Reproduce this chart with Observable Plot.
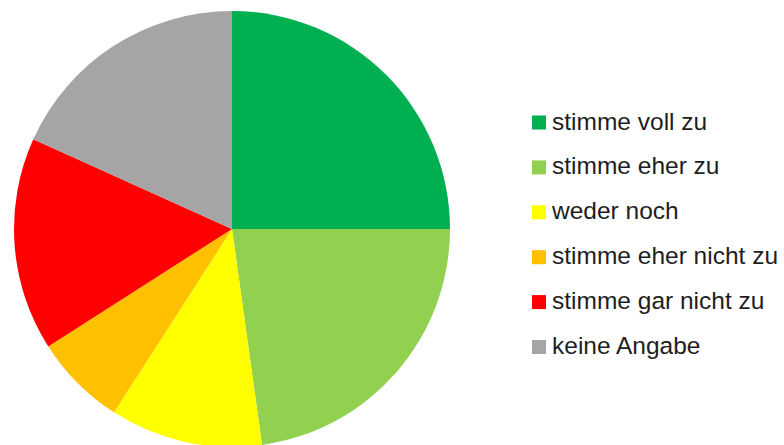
<!DOCTYPE html>
<html><head><meta charset="utf-8">
<script src="https://cdn.jsdelivr.net/npm/d3@7"></script>
<script src="https://cdn.jsdelivr.net/npm/@observablehq/plot@0.6"></script>
<style>body{margin:0;background:#fff}</style>
</head><body><div id="chart"></div>
<script>
const categories = ["stimme voll zu", "stimme eher zu", "weder noch", "stimme eher nicht zu", "stimme gar nicht zu", "keine Angabe"];
const shares = [25.0, 22.8, 11.3, 6.85, 15.8, 18.25];
const colors = ["#00B050", "#92D050", "#FFFF00", "#FFC000", "#FF0000", "#A5A5A5"];

const data = categories.map((c, i) => ({category: c, share: shares[i]}));

const pieMark = (index, scales) => {
  const g = d3.create("svg:g");
  const arcs = d3.pie().sort(null).value(d => d.share)(data);
  const arc = d3.arc().innerRadius(0).outerRadius(218);
  g.append("g")
    .attr("transform", "translate(232,229)")
    .selectAll("path").data(arcs).join("path")
    .attr("d", arc)
    .attr("fill", d => scales.color(d.data.category));
  const lg = g.append("g").attr("transform", "translate(532,115.5)");
  const row = lg.selectAll("g").data(categories).join("g")
    .attr("transform", (d, i) => `translate(0,${i * 44.9})`);
  row.append("rect").attr("width", 14).attr("height", 14)
    .attr("fill", d => scales.color(d));
  row.append("text").attr("x", 20).attr("y", 14)
    .attr("text-anchor", "start")
    .attr("font-family", "Liberation Sans, Arial, sans-serif")
    .attr("font-size", 24.5)
    .attr("fill", "#1e1e1e")
    .text(d => d);
  return g.node();
};

const chart = Plot.plot({
  width: 784,
  height: 445,
  margin: 0,
  x: {axis: null},
  y: {axis: null},
  color: {type: "ordinal", domain: categories, range: colors},
  marks: [
    Plot.dot(data, {fill: "category", r: 0}),
    pieMark
  ]
});
document.getElementById("chart").append(chart);
</script>
</body></html>
